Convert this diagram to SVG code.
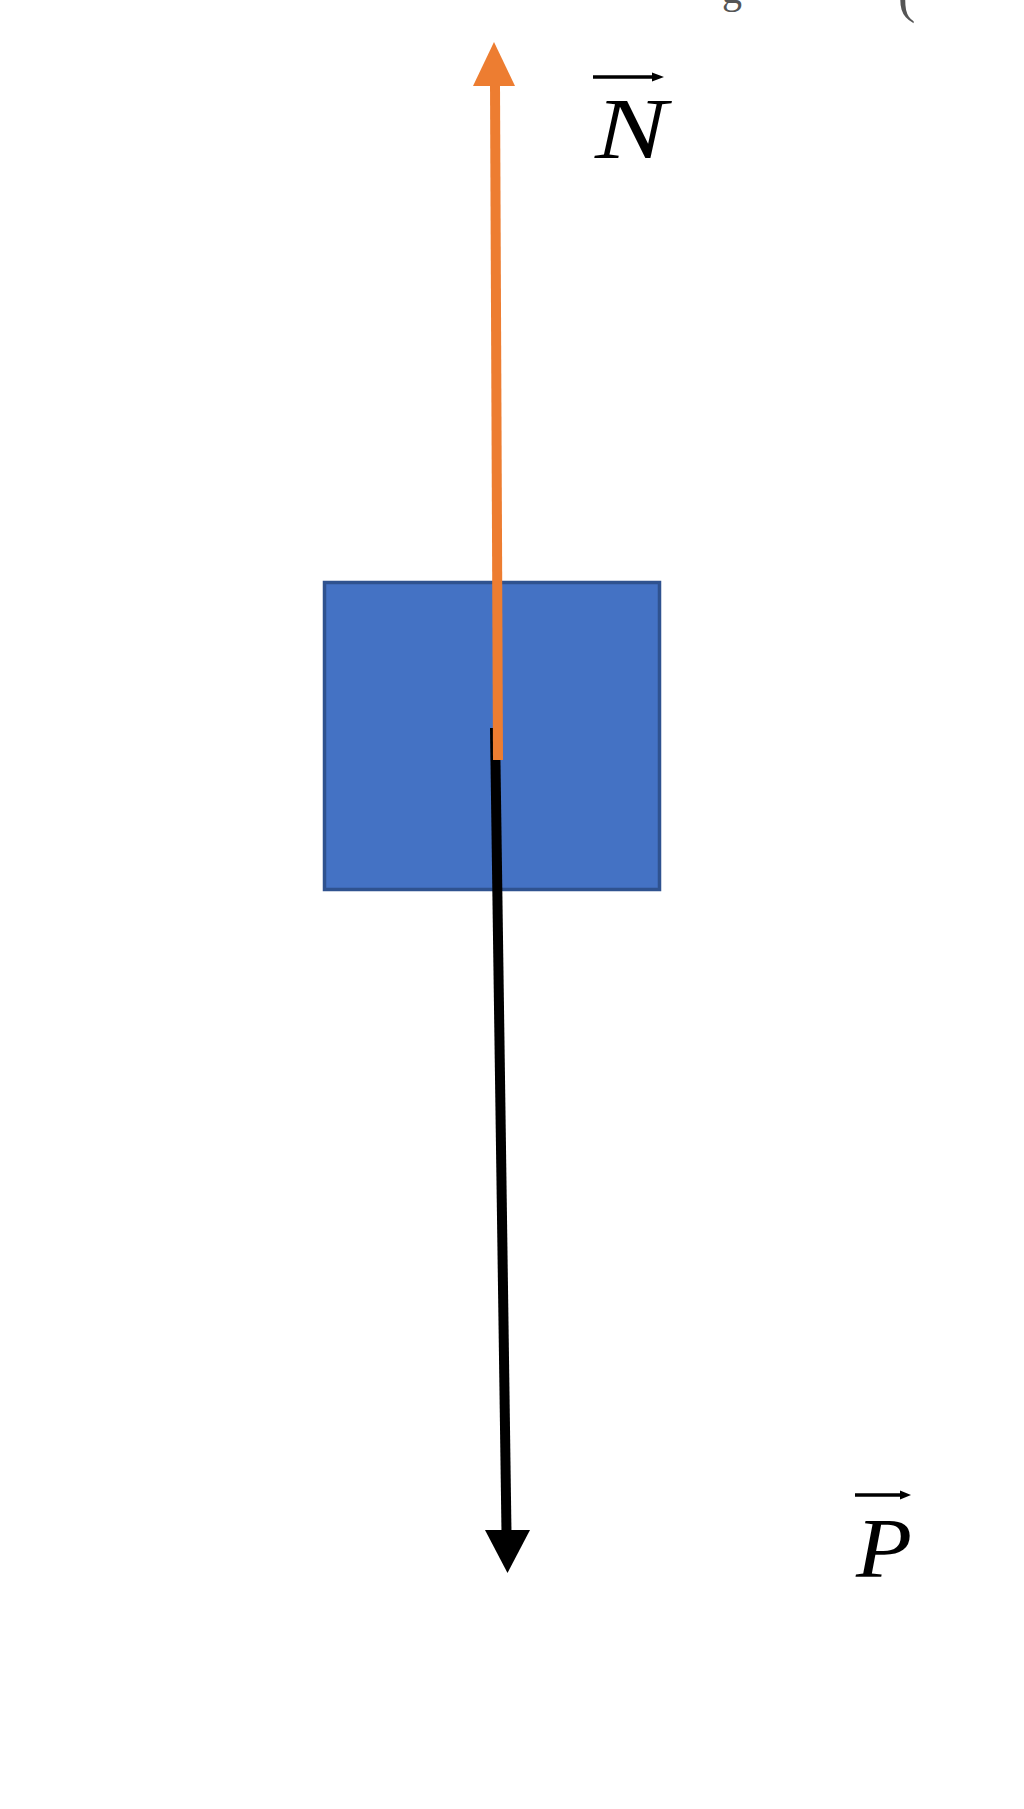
<svg xmlns="http://www.w3.org/2000/svg" width="1024" height="1809" viewBox="0 0 1024 1809">
<style>
.lbl{font-family:"Liberation Serif","Times New Roman",serif;font-style:italic;fill:#000}
.cut{font-family:"Liberation Serif","Times New Roman",serif;fill:#555}
.vec{stroke:#000;stroke-width:3.5}
</style>
<rect width="1024" height="1809" fill="#fff"/>
<g id="cut-text">
<text class="cut" x="722" y="3" font-size="40">g</text>
<text class="cut" x="898" y="12" font-size="52">(</text>
</g>
<g id="block">
<rect x="324.5" y="582.5" width="335" height="307" fill="#4472C4" stroke="#2F528F" stroke-width="3.5"/>
</g>
<g id="connectors">
<g id="P-arrow">
<line x1="495" y1="728" x2="506.5" y2="1533" stroke="#000" stroke-width="10"/>
<polygon points="485,1530 530,1530 507.5,1573" fill="#000"/>
</g>
<g id="N-arrow">
<line x1="498" y1="760" x2="495" y2="84" stroke="#ED7D31" stroke-width="10"/>
<polygon points="494,42 515,86 473,86" fill="#ED7D31"/>
</g>
</g>
<g id="label-N">
<line class="vec" x1="593" y1="77" x2="655" y2="77"/>
<polygon points="652,72.5 664,77 652,81.5" fill="#000"/>
<text class="lbl" x="595" y="158" font-size="86" textLength="72" lengthAdjust="spacingAndGlyphs">N</text>
</g>
<g id="label-P">
<line class="vec" x1="855" y1="1495" x2="903" y2="1495"/>
<polygon points="900,1490.5 911,1495 900,1499.5" fill="#000"/>
<text class="lbl" x="856" y="1577" font-size="84" textLength="56" lengthAdjust="spacingAndGlyphs">P</text>
</g>
</svg>
